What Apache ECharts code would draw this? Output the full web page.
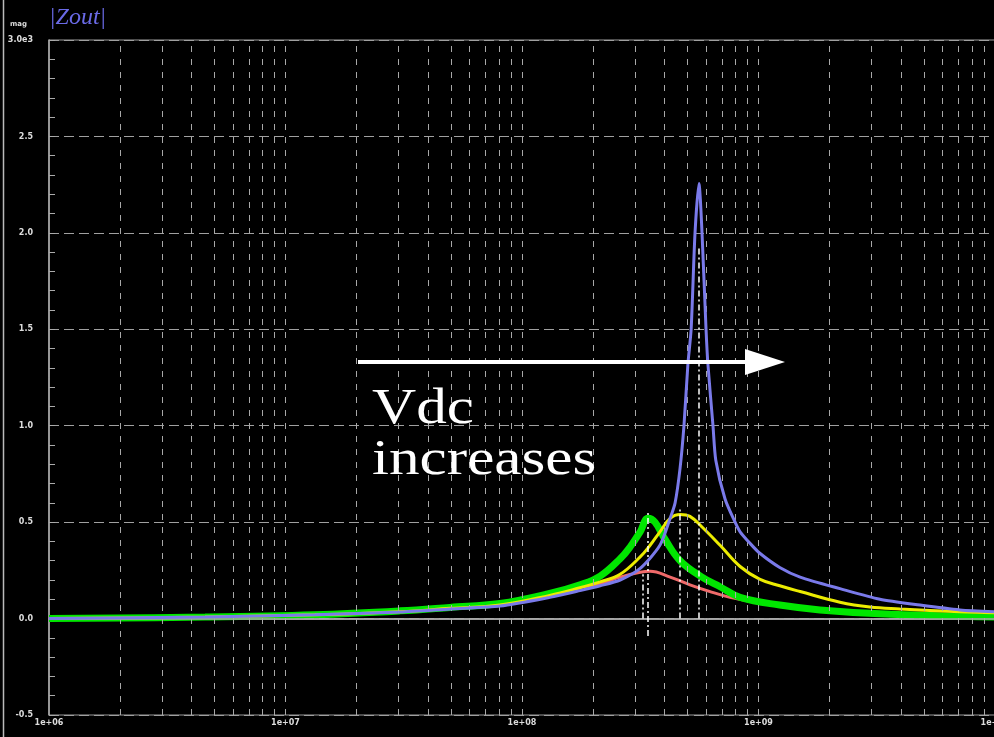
<!DOCTYPE html>
<html lang="en">
<head>
	<meta charset="UTF-8">
	<title>|Zout| vs frequency</title>
	<script src="https://cdn.jsdelivr.net/npm/echarts@6/dist/echarts.min.js"></script>
	<style>
		html, body { margin: 0; padding: 0; background: #000; }
		#chart { width: 994px; height: 737px; }
	</style>
</head>
<body>
	<div id="chart"></div>
	<script>
		// values (freq in Hz, |Zout| in units of 1e3)
		var freqRed = [1e6, 4.57e6, 1.33e7, 3.05e7, 4.96e7, 8.07e7, 1.31e8, 1.76e8, 2.14e8, 2.60e8, 3.16e8, 3.48e8, 4.23e8, 5.13e8, 6.24e8, 7.58e8, 9.21e8, 1.50e9, 3.26e9, 1e10];
		var zRed = [0.0, 0.008, 0.02, 0.036, 0.053, 0.07, 0.12, 0.16, 0.18, 0.215, 0.24, 0.245, 0.215, 0.175, 0.14, 0.11, 0.09, 0.05, 0.02, 0.006];

		var freqGreen = [1e6, 4.57e6, 1.33e7, 3.05e7, 4.96e7, 8.07e7, 1.31e8, 1.76e8, 2.14e8, 2.60e8, 2.86e8, 3.16e8, 3.41e8, 3.65e8, 4.03e8, 4.66e8, 5.77e8, 6.88e8, 8.36e8, 1.23e9, 1.82e9, 3.26e9, 1e10];
		var zGreen = [0.0, 0.008, 0.02, 0.04, 0.058, 0.078, 0.13, 0.175, 0.22, 0.31, 0.37, 0.45, 0.52, 0.5, 0.41, 0.30, 0.215, 0.165, 0.11, 0.07, 0.045, 0.025, 0.008];

		var freqYellow = [1e6, 4.57e6, 1.33e7, 3.05e7, 4.96e7, 8.07e7, 1.31e8, 1.76e8, 2.14e8, 2.60e8, 3.16e8, 3.48e8, 3.83e8, 4.23e8, 4.66e8, 5.13e8, 5.77e8, 6.88e8, 8.36e8, 1.01e9, 1.23e9, 1.50e9, 2.21e9, 2.96e9, 3.96e9, 7.11e9, 1e10];
		var zYellow = [0.0, 0.008, 0.02, 0.036, 0.053, 0.07, 0.12, 0.16, 0.19, 0.23, 0.32, 0.38, 0.45, 0.52, 0.54, 0.53, 0.475, 0.38, 0.27, 0.205, 0.17, 0.14, 0.085, 0.06, 0.05, 0.035, 0.03];

		var freqBlue = [1e6, 4.57e6, 1.33e7, 3.05e7, 4.96e7, 8.07e7, 1.31e8, 1.76e8, 2.14e8, 2.60e8, 3.16e8, 3.83e8, 4.23e8, 4.44e8, 4.66e8, 4.84e8, 5.03e8, 5.19e8, 5.39e8, 5.60e8, 5.77e8, 6.0e8, 6.11e8, 6.42e8, 6.6e8, 7.22e8, 7.96e8, 8.36e8, 9.21e8, 1.01e9, 1.23e9, 1.50e9, 2.21e9, 3.26e9, 4.82e9, 7.11e9, 1e10];
		var zBlue = [0.0, 0.008, 0.02, 0.034, 0.05, 0.065, 0.11, 0.145, 0.17, 0.2, 0.26, 0.38, 0.52, 0.6, 0.78, 1.0, 1.32, 1.5, 2.0, 2.256, 2.0, 1.5, 1.32, 1.0, 0.82, 0.62, 0.5, 0.45, 0.39, 0.34, 0.265, 0.215, 0.155, 0.1, 0.07, 0.045, 0.035];

		// peak marker lines (dash-dot): [freq, bottom, top]
		var markRed = [3.25e8, 0, 0.23];
		var markGreen = [3.41e8, -0.09, 0.55];
		var markYellow = [4.66e8, 0, 0.58];
		var markBlue = [5.60e8, 0, 1.92];

		var decades = [1e6, 1e7, 1e8, 1e9];

		function pairs(xs, ys) {
			return xs.map(function (x, i) { return [x, ys[i]]; });
		}

		// 1..9 x every decade for the dashed vertical grid
		var gridFreqs = [];
		decades.forEach(function (d) {
			for (var m = 1; m <= 9; m++) {
				if (d * m > 1e6) gridFreqs.push(d * m);
			}
		});

		function peakMark(m) {
			return {
				silent: true,
				symbol: 'none',
				label: { show: false },
				lineStyle: { color: '#fff', width: 1.5, type: [6, 3, 2, 3], opacity: 1 },
				data: [[{ coord: [m[0], m[1]] }, { coord: [m[0], m[2]] }]]
			};
		}

		function curve(name, xs, ys, color, width, mark, z, smooth) {
			return {
				name: name,
				type: 'line',
				data: pairs(xs, ys),
				showSymbol: false,
				smooth: smooth,
				z: z,
				lineStyle: { color: color, width: width },
				markLine: peakMark(mark)
			};
		}

		var myChart = echarts.init(document.getElementById('chart'));
		var option = {
			backgroundColor: '#000',
			animation: false,
			grid: {
				left: 49, top: 40, width: 946, height: 675,
				outerBoundsMode: 'none',
				containLabel: false,
				show: true, borderColor: '#9a9a9a', borderWidth: 1
			},
			xAxis: {
				type: 'log',
				logBase: 10,
				min: 1e6,
				max: 1e10,
				axisLine: { lineStyle: { color: '#b0b0b0', width: 1.5 } },
				axisTick: { show: false },
				splitLine: { show: false },
				axisLabel: {
					color: '#ddd',
					fontFamily: 'DejaVu Sans',
					fontWeight: 'bold',
					fontSize: 8,
					margin: 4,
					alignMinLabel: 'left',
					formatter: function (v) {
						var e = Math.round(Math.log10(v));
						return '1e+' + (e < 10 ? '0' + e : e);
					}
				}
			},
			yAxis: {
				type: 'value',
				min: -0.5,
				max: 3.0,
				interval: 0.5,
				axisLine: { show: true, lineStyle: { color: '#b0b0b0', width: 1.5 } },
				axisTick: { show: true, inside: true, length: 6, lineStyle: { color: '#aaa' } },
				minorTick: { show: true, splitNumber: 5, length: 6, lineStyle: { color: '#aaa' } },
				splitLine: { show: true, lineStyle: { color: '#a0a0a0', type: [10, 5], width: 1 } },
				axisLabel: {
					color: '#ddd',
					fontFamily: 'DejaVu Sans',
					fontWeight: 'bold',
					fontSize: 8,
					margin: 16,
					padding: [0, 0, 6, 0],
					formatter: function (v) {
						if (v === 3) return '3.0e3';
						return v.toFixed(1);
					}
				}
			},
			graphic: [
				{ type: 'line', z: 100, shape: { x1: 3.5, y1: 0, x2: 3.5, y2: 737 }, style: { stroke: '#bbb', lineWidth: 1.5 } },
				{ type: 'text', z: 100, x: 49, y: 18, style: { text: '|Zout|', fill: '#6a6ae6', font: 'italic 24px "Liberation Serif"', verticalAlign: 'middle' } },
				{ type: 'text', z: 100, x: 10, y: 24, style: { text: 'mag', fill: '#ddd', font: 'bold 7px "DejaVu Sans"', verticalAlign: 'middle' } },
				// arrow annotation
				{ type: 'line', z: 100, shape: { x1: 358, y1: 362, x2: 752, y2: 362 }, style: { stroke: '#fff', lineWidth: 4 } },
				{ type: 'polygon', z: 100, shape: { points: [[785, 362], [745, 349], [745, 375]] }, style: { fill: '#fff' } },
				{ type: 'text', z: 100, x: 372, y: 410, scaleX: 1.2, style: { text: 'Vdc', fill: '#fff', font: '51px "Liberation Serif"', verticalAlign: 'middle' } },
				{ type: 'text', z: 100, x: 372, y: 461, scaleX: 1.2, style: { text: 'increases', fill: '#fff', font: '51px "Liberation Serif"', verticalAlign: 'middle' } }
			],
			series: [
				{
					name: 'grid',
					type: 'line',
					data: [],
					z: 1,
					markLine: {
						silent: true,
						symbol: 'none',
						label: { show: false },
						data: gridFreqs.map(function (f) {
							return { xAxis: f, lineStyle: { color: '#a8a8a8', type: [6, 7], width: 1 } };
						}).concat([{ yAxis: 0, lineStyle: { color: '#a8a8a8', type: 'solid', width: 1.5 } }])
					}
				},
				curve('red', freqRed, zRed, '#f06a6a', 3, markRed, 2, 0.4),
				curve('green', freqGreen, zGreen, '#00e600', 7, markGreen, 3, 0.4),
				curve('yellow', freqYellow, zYellow, '#ecec00', 3, markYellow, 4, 0.4),
				curve('blue', freqBlue, zBlue, '#7a7aea', 3, markBlue, 5, 0.25)
			]
		};
		myChart.setOption(option);
	</script>
</body>
</html>
